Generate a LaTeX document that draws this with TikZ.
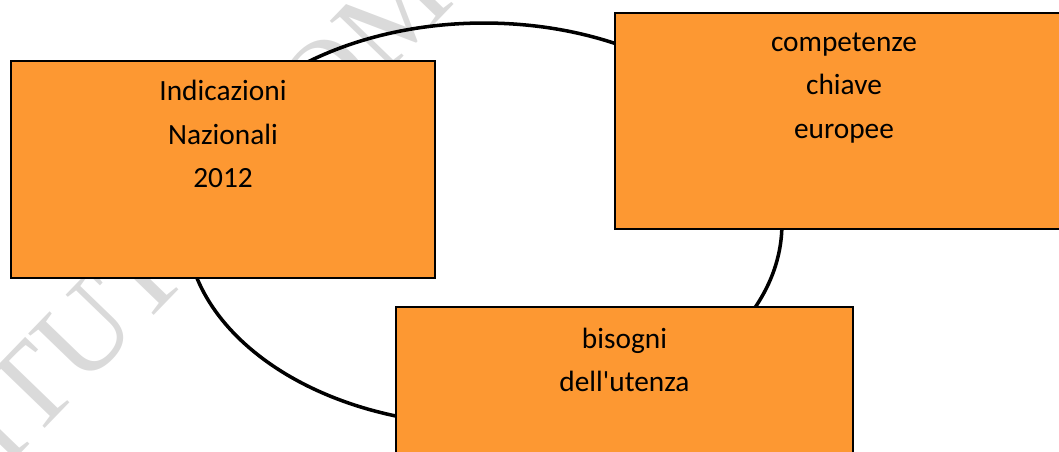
\documentclass[tikz,border=0pt]{standalone}
\usepackage{fontspec}
\setmainfont{Carlito}
\newfontfamily\wmfont{Liberation Serif}
\definecolor{boxorange}{RGB}{253,152,50}
\definecolor{wmgray}{RGB}{218,218,218}
\begin{document}
\begin{tikzpicture}[x=0.02cm,y=-0.02cm,
  panel/.style={draw=black,line width=1.1pt,fill=boxorange,inner sep=0pt},
  paneltext/.style={align=center,inner sep=0pt,font=\fontsize{16.7}{24.7}\selectfont},
  ring/.style={draw=black,line width=2pt}]
\useasboundingbox (0,0) rectangle (1059,452);
\clip (0,0) rectangle (1059,452);
% watermark
\node[text=wmgray,font=\wmfont\fontsize{67.2}{67.2}\selectfont,rotate=46,anchor=base,inner sep=0pt] (wm) at (370,92) {ISTITUTO COMPRENSIVO};
% ring
\draw[ring] (484,224) ellipse [x radius=5.96cm, y radius=4.02cm];
% boxes
\node[panel,minimum width=8.48cm,minimum height=4.34cm] (ind) at (223,169.5) {};
\node[panel,minimum width=9.2cm,minimum height=4.32cm] (comp) at (845,121) {};
\node[panel,minimum width=9.14cm,minimum height=4.26cm] (bis) at (624.5,413.5) {};
% texts
\node[paneltext] (indt) at (223,134) {Indicazioni\\Nazionali\\2012};
\node[paneltext] (compt) at (844,88) {competenze\\chiave\\europee};
\node[paneltext] (bist) at (624.5,360) {bisogni\\dell\textquotesingle utenza};
\end{tikzpicture}
\end{document}
